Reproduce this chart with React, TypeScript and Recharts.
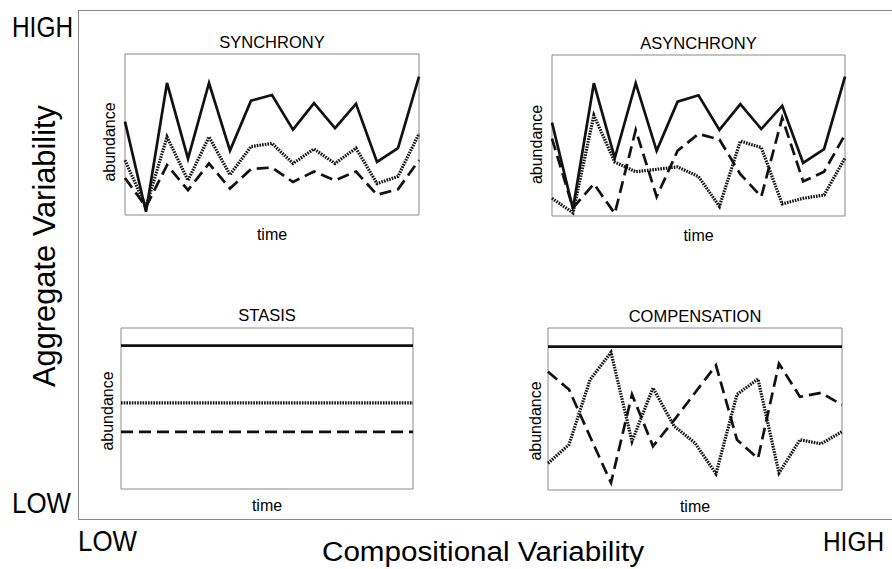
import React from 'react'
import { LineChart, Line, XAxis, YAxis, ReferenceArea } from 'recharts'

const FONT = '"Liberation Sans", Arial, Helvetica, sans-serif'

// time steps shared by every panel
const TIME = [0, 1, 2, 3, 4, 5, 6, 7, 8, 9, 10, 11, 12, 13, 14]

// SYNCHRONY: total (solid), species A (dotted), species B (dashed)
const syncTotal = [58, 2, 82, 35, 82, 40, 71, 74.5, 53, 69.5, 54, 69, 33, 41.5, 86]
const syncA = [34, 5, 48.5, 21.5, 48.5, 25, 42.5, 44.5, 32, 41, 32, 41.5, 19.5, 24, 50.5]
const syncB = [23, 5, 31, 15.5, 32, 16.5, 28.5, 29.5, 20.5, 27, 21.5, 27, 12.5, 16, 34]

// ASYNCHRONY
const asyncTotal = [58, 4.5, 82.5, 36, 82.5, 40.5, 71, 75, 53.5, 69.5, 54, 68.5, 33, 41.5, 86.5]
const asyncA = [11, 2, 62.5, 33.5, 27.5, 29, 30.5, 24.5, 6, 46.5, 42.5, 7.5, 11, 13, 36]
const asyncB = [48, 5, 20, 1.5, 53.5, 12, 40.5, 51, 47.5, 26, 12, 61, 21.5, 27.5, 50.5]

// STASIS
const stasisTotal = [89, 89, 89, 89, 89, 89, 89, 89, 89, 89, 89, 89, 89, 89, 89]
const stasisA = [53.5, 53.5, 53.5, 53.5, 53.5, 53.5, 53.5, 53.5, 53.5, 53.5, 53.5, 53.5, 53.5, 53.5, 53.5]
const stasisB = [35.5, 35.5, 35.5, 35.5, 35.5, 35.5, 35.5, 35.5, 35.5, 35.5, 35.5, 35.5, 35.5, 35.5, 35.5]

// COMPENSATION
const compTotal = [88.5, 88.5, 88.5, 88.5, 88.5, 88.5, 88.5, 88.5, 88.5, 88.5, 88.5, 88.5, 88.5, 88.5, 88.5]
const compA = [16.5, 28, 68, 85, 30, 63, 39.5, 29, 10, 59, 68.5, 10.5, 31, 28.5, 36]
const compB = [73, 62, 33, 4.5, 59, 27, 43, 60, 77, 31, 19.5, 78, 57.5, 60, 52.5]

const rows = (total: number[], a: number[], b: number[]) =>
  TIME.map((t, i) => ({ t, total: total[i], a: a[i], b: b[i] }))

const INK = '#111'
const BORDER = '#8a8a8a'

type Box = { x: number; y: number; w: number; h: number }

function Panel({ box, data }: { box: Box; data: ReturnType<typeof rows> }) {
  const pad = 5
  return (
    <div style={{ position: 'absolute', left: box.x - pad, top: box.y - pad }}>
      <LineChart
        width={box.w + pad * 2}
        height={box.h + pad * 2}
        data={data}
        margin={{ top: pad, right: pad, bottom: pad, left: pad }}
      >
        <XAxis dataKey="t" type="number" domain={[0, 14]} hide />
        <YAxis type="number" domain={[0, 100]} hide />
        <ReferenceArea x1={0} x2={14} y1={0} y2={100} fill="none" stroke={BORDER} strokeWidth={1} />
        <Line type="linear" dataKey="a" stroke={INK} strokeWidth={3.2} strokeDasharray="1.6 1.1" dot={false} isAnimationActive={false} />
        <Line type="linear" dataKey="b" stroke={INK} strokeWidth={2.7} strokeDasharray="12 6" dot={false} isAnimationActive={false} />
        <Line type="linear" dataKey="total" stroke={INK} strokeWidth={2.7} dot={false} isAnimationActive={false} />
      </LineChart>
    </div>
  )
}

const PANELS = [
  { title: 'SYNCHRONY', box: { x: 125, y: 54, w: 294, h: 161 }, data: rows(syncTotal, syncA, syncB), abX: 115, abY: 142, timeY: 240, titleY: 48 },
  { title: 'ASYNCHRONY', box: { x: 552, y: 55, w: 293, h: 161 }, data: rows(asyncTotal, asyncA, asyncB), abX: 541.5, abY: 144.5, timeY: 241, titleY: 49 },
  { title: 'STASIS', box: { x: 121, y: 328, w: 292, h: 161 }, data: rows(stasisTotal, stasisA, stasisB), abX: 113, abY: 411, timeY: 511, titleY: 321 },
  { title: 'COMPENSATION', box: { x: 548, y: 328, w: 294, h: 162 }, data: rows(compTotal, compA, compB), abX: 541, abY: 421, timeY: 512, titleY: 322 },
]

export default function App() {
  return (
    <div style={{ position: 'absolute', left: 0, top: 0, width: 892, height: 569, background: '#fff', overflow: 'hidden', fontFamily: FONT }}>
      <svg width={892} height={569} style={{ position: 'absolute', left: 0, top: 0 }} fontFamily={FONT} fill="#000">
        <rect x={78.5} y={10.5} width={820} height={509} fill="none" stroke={BORDER} strokeWidth={1} />
        <text x={12} y={37} fontSize={29} textLength={61} lengthAdjust="spacingAndGlyphs">HIGH</text>
        <text x={12} y={513} fontSize={29} textLength={59} lengthAdjust="spacingAndGlyphs">LOW</text>
        <text x={78} y={551} fontSize={29} textLength={59} lengthAdjust="spacingAndGlyphs">LOW</text>
        <text x={823} y={551} fontSize={27} textLength={61} lengthAdjust="spacingAndGlyphs">HIGH</text>
        <text transform="translate(55,246) rotate(-90)" textAnchor="middle" fontSize={31} textLength={282} lengthAdjust="spacingAndGlyphs">
          Aggregate Variability
        </text>
        <text x={483} y={561} textAnchor="middle" fontSize={27} textLength={322} lengthAdjust="spacingAndGlyphs">
          Compositional Variability
        </text>
        {PANELS.map((p) => (
          <g key={p.title}>
            <text x={p.box.x + p.box.w / 2} y={p.titleY} textAnchor="middle" fontSize={16.5}>{p.title}</text>
            <text x={p.box.x + p.box.w / 2} y={p.timeY} textAnchor="middle" fontSize={16}>time</text>
            <text transform={`translate(${p.abX},${p.abY}) rotate(-90)`} textAnchor="middle" fontSize={16}>abundance</text>
          </g>
        ))}
      </svg>
      {PANELS.map((p) => (
        <Panel key={p.title} box={p.box} data={p.data} />
      ))}
    </div>
  )
}
